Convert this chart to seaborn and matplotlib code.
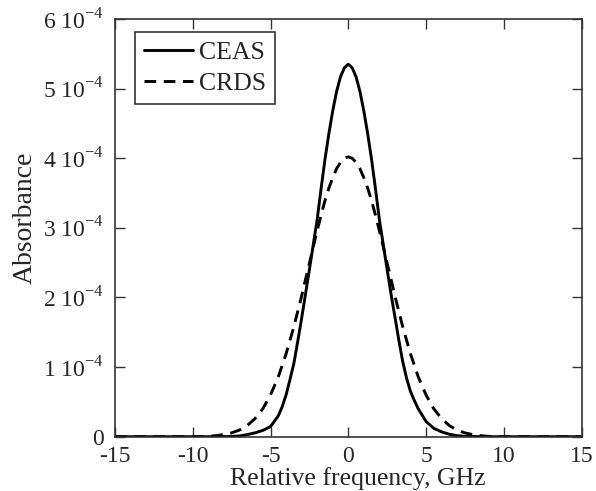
import matplotlib
matplotlib.use("Agg")
import matplotlib.pyplot as plt
import seaborn as sns
import pandas as pd

# ---- data (absorbance in units of 1e-4) ----
freq_ceas = [-15, -9, -7.5, -7, -6.5, -6, -5.5, -5, -4.5, -4.25, -4, -3.75, -3.5, -3.25, -3, -2.75, -2.5, -2.25,
             -2, -1.75, -1.5, -1.25, -1, -0.75, -0.5, -0.25,
             0, 0.25, 0.5, 0.75, 1, 1.25, 1.5, 1.75, 2, 2.25, 2.5, 2.75, 3, 3.25, 3.5, 3.75, 4, 4.25, 4.5,
             5, 5.5, 6, 6.5, 7, 7.5, 9, 15]
abs_ceas = [0, 0, 0.003, 0.01, 0.03, 0.055, 0.09, 0.145, 0.30, 0.43, 0.60, 0.82, 1.05, 1.37, 1.70, 2.05, 2.40, 2.76,
            3.12, 3.56, 3.98, 4.35, 4.68, 4.96, 5.17, 5.30,
            5.35, 5.30, 5.17, 4.96, 4.68, 4.35, 3.98, 3.56, 3.12, 2.76, 2.40, 2.05, 1.72, 1.39, 1.08, 0.84, 0.65, 0.52, 0.40,
            0.22, 0.12, 0.07, 0.035, 0.015, 0.005, 0, 0]

freq_crds = [-15, -9.5, -9, -8.5, -8, -7.5, -7, -6.5, -6, -5.5, -5, -4.5, -4, -3.5, -3, -2.75, -2.5, -2.25, -2,
             -1.75, -1.5, -1.25, -1, -0.75, -0.5, -0.25,
             0, 0.25, 0.5, 0.75, 1, 1.25, 1.5, 1.75, 2, 2.25, 2.5, 2.75, 3, 3.5, 4, 4.5, 5, 5.5, 6, 6.5, 7, 7.5,
             8, 8.5, 9, 9.5, 15]
abs_crds = [0, 0, 0.005, 0.015, 0.03, 0.055, 0.095, 0.16, 0.26, 0.40, 0.60, 0.86, 1.19, 1.58, 2.02, 2.26, 2.49, 2.73, 2.96,
            3.18, 3.39, 3.57, 3.72, 3.85, 3.94, 4.00,
            4.02, 4.00, 3.94, 3.85, 3.72, 3.57, 3.39, 3.18, 2.96, 2.73, 2.49, 2.26, 2.02, 1.58, 1.19, 0.86, 0.60, 0.40, 0.26, 0.16, 0.095, 0.055,
            0.03, 0.015, 0.005, 0, 0]

series_names = ["CEAS", "CRDS"]
x_ticks = [-15, -10, -5, 0, 5, 10, 15]
x_ticklabels = ["-15", "-10", "-5", "0", "5", "10", "15"]
y_ticks = [0, 1, 2, 3, 4, 5, 6]
y_ticklabels = ["0"] + [r"%d 10$^{\mathregular{-4}}$" % v for v in [1, 2, 3, 4, 5, 6]]

df = pd.concat([
    pd.DataFrame({"freq": freq_ceas, "absorb": abs_ceas, "series": series_names[0]}),
    pd.DataFrame({"freq": freq_crds, "absorb": abs_crds, "series": series_names[1]}),
])

sns.set_theme(style="ticks")
plt.rcParams["font.family"] = ["Liberation Serif", "DejaVu Serif"]
plt.rcParams["mathtext.fontset"] = "custom"
plt.rcParams["mathtext.rm"] = "Liberation Serif"
plt.rcParams["axes.unicode_minus"] = False
plt.rcParams["lines.solid_joinstyle"] = "round"
plt.rcParams["lines.dash_joinstyle"] = "round"

FS = 17
fig = plt.figure(figsize=(5.96, 4.91), dpi=100)
ax = fig.add_axes([0.193, 0.1106, 0.7827, 0.8507])

sns.lineplot(data=df[df.series == "CEAS"], x="freq", y="absorb", ax=ax, color="black",
             linewidth=2.1, label="CEAS", estimator=None, sort=False)
sns.lineplot(data=df[df.series == "CRDS"], x="freq", y="absorb", ax=ax, color="black",
             linewidth=2.1, linestyle=(0, (4.0, 2.6)), label="CRDS", estimator=None, sort=False)

ax.set_xlim(-15, 15)
ax.set_ylim(0, 6)
ax.set_xticks(x_ticks)
ax.set_xticklabels(x_ticklabels, fontsize=FS)
ax.set_yticks(y_ticks)
ax.set_yticklabels(y_ticklabels, fontsize=FS)
ax.tick_params(axis="both", direction="in", length=7, width=1.0, color="#333333",
               top=True, right=True, labeltop=False, labelright=False)
ax.tick_params(axis="x", pad=7)
ax.tick_params(axis="y", pad=8)
for sp in ax.spines.values():
    sp.set_visible(True)
    sp.set_linewidth(1.2)
    sp.set_color("#333333")

ax.set_xlabel("Relative frequency, GHz", fontsize=18.5)
ax.set_ylabel("Absorbance", fontsize=20)
ax.xaxis.set_label_coords(0.52, -0.073)
ax.yaxis.set_label_coords(-0.165, 0.525)

leg = ax.legend(loc="upper left", bbox_to_anchor=(0.043, 0.969), borderaxespad=0,
                fontsize=18.5, frameon=True, fancybox=False, framealpha=1,
                handlelength=1.9, handletextpad=0.25, borderpad=0.35, labelspacing=0.3)
leg.get_frame().set_edgecolor("#333333")
leg.get_frame().set_linewidth(1.2)

fig.savefig("out.png", dpi=100)
